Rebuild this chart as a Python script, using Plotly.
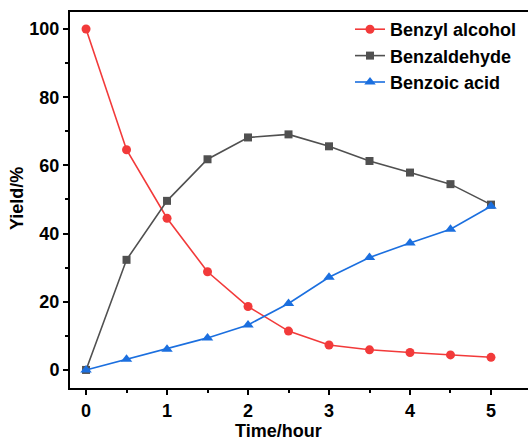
import plotly.graph_objects as go

time_h = [0, 0.5, 1, 1.5, 2, 2.5, 3, 3.5, 4, 4.5, 5]
benzyl_alcohol = [100, 64.6, 44.5, 28.8, 18.6, 11.4, 7.3, 5.9, 5.1, 4.4, 3.7]
benzaldehyde = [0, 32.3, 49.6, 61.8, 68.2, 69.1, 65.6, 61.3, 57.9, 54.5, 48.5]
benzoic_acid = [0, 3.1, 6.1, 9.4, 13.2, 19.5, 27.2, 33.0, 37.2, 41.3, 48.0]

series_names = ["Benzyl alcohol", "Benzaldehyde", "Benzoic acid"]
x_ticks = [0, 1, 2, 3, 4, 5]
y_ticks = [0, 20, 40, 60, 80, 100]

FONT = "Liberation Sans, Arial, sans-serif"

fig = go.Figure()
fig.add_trace(go.Scatter(x=time_h, y=benzyl_alcohol, name=series_names[0], mode="lines+markers",
                         line=dict(color="#F23A3A", width=1.6),
                         marker=dict(symbol="circle", size=9, color="#F23A3A")))
fig.add_trace(go.Scatter(x=time_h, y=benzaldehyde, name=series_names[1], mode="lines+markers",
                         line=dict(color="#505050", width=1.6),
                         marker=dict(symbol="square", size=8, color="#505050")))
fig.add_trace(go.Scatter(x=time_h, y=benzoic_acid, name=series_names[2], mode="lines+markers",
                         line=dict(color="#1B6FDF", width=1.6),
                         marker=dict(symbol="triangle-up", size=10, color="#1B6FDF")))

axis_common = dict(showline=True, linecolor="black", linewidth=2, showgrid=False, zeroline=False,
                   ticks="outside", ticklen=5, tickwidth=2, tickcolor="black",
                   tickfont=dict(family=FONT, size=18, color="black", weight="bold"))

fig.update_xaxes(range=[-0.198, 5.457], tickvals=x_ticks, mirror=True,
                 minor=dict(dtick=0.5, tick0=0, ticks="outside", ticklen=3, tickwidth=2, tickcolor="black"),
                 **axis_common)
fig.update_yaxes(range=[-5.3, 105], tickvals=y_ticks,
                 minor=dict(dtick=10, tick0=0, ticks="outside", ticklen=3, tickwidth=2, tickcolor="black"),
                 **axis_common)

fig.add_annotation(text="<b>Time/hour</b>", xref="paper", yref="paper", x=(278 - 70) / 458, y=-43 / 376,
                   showarrow=False, font=dict(family=FONT, size=18, color="black"), yanchor="middle")
fig.add_annotation(text="<b>Yield/%</b>", xref="paper", yref="paper", x=-53 / 458, y=(388 - 199) / 376,
                   textangle=-90, showarrow=False, font=dict(family=FONT, size=18, color="black"),
                   xanchor="center", yanchor="middle")

fig.update_layout(
    width=528, height=443,
    margin=dict(l=70, r=0, t=12, b=55),
    plot_bgcolor="white", paper_bgcolor="white",
    showlegend=True,
    legend=dict(x=(350 - 70) / 458, y=(388 - 11) / 376, xanchor="left", yanchor="top",
                bgcolor="rgba(0,0,0,0)", font=dict(family=FONT, size=18, color="black", weight="bold"),
                tracegroupgap=0, itemwidth=30),
)

fig.write_html("out.html")
